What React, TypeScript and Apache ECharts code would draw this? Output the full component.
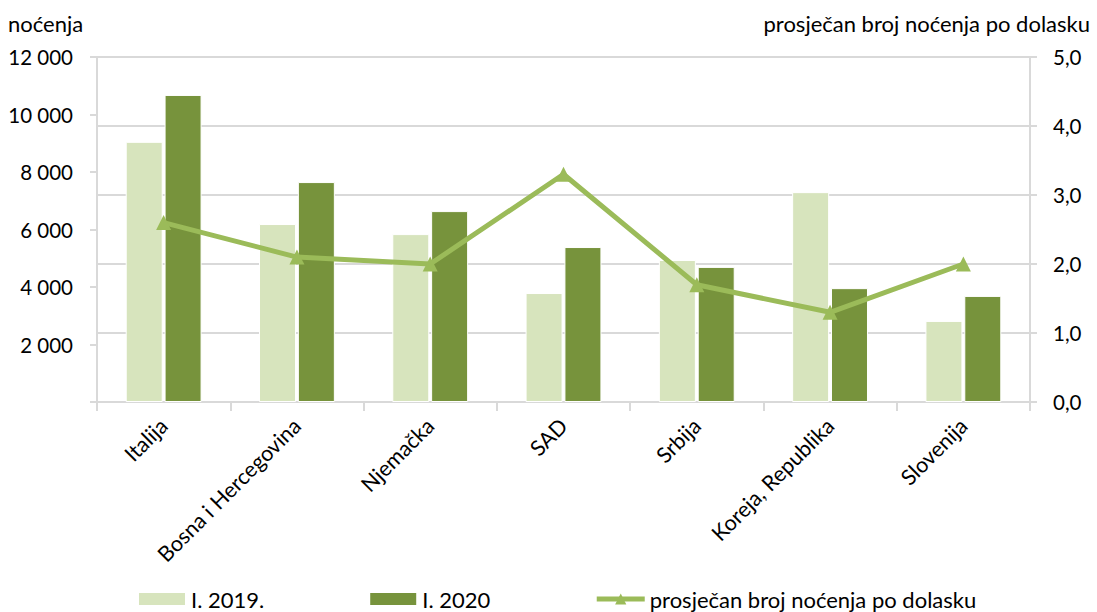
import React, { useEffect, useRef } from "react";
import * as echarts from "echarts";

const categories = ["Italija", "Bosna i Hercegovina", "Njemačka", "SAD", "Srbija", "Koreja, Republika", "Slovenija"];
const nights2019 = [9050, 6190, 5840, 3790, 4940, 7300, 2820];
const nights2020 = [10680, 7650, 6640, 5390, 4700, 3960, 3690];
const avgNights = [2.6, 2.1, 2.0, 3.3, 1.7, 1.3, 2.0];
const seriesNames = ["I. 2019.", "I. 2020", "prosječan broj noćenja po dolasku"];
const leftTitle = "noćenja";
const rightTitle = "prosječan broj noćenja po dolasku";

const FONT = "Lato, 'Open Sans', sans-serif";

export default function App() {
  const ref = useRef<HTMLDivElement>(null);
  useEffect(() => {
    if (!ref.current) return;
    const chart = echarts.init(ref.current, null, { renderer: "svg" });
    const gray = "#d9d9d9";
    chart.setOption({
      animation: false,
      textStyle: { fontFamily: FONT },
      grid: { left: 97, right: 67, top: 57, bottom: 210, containLabel: false },
      graphic: [
        { type: "text", left: 8, top: 12, style: { text: leftTitle, font: `22px ${FONT}`, fill: "#000" } },
        { type: "text", right: 7, top: 12, style: { text: rightTitle, font: `22px ${FONT}`, fill: "#000" } },
      ],
      legend: {
        bottom: -3,
        left: 132,
        itemWidth: 48,
        itemHeight: 14,
        itemGap: 104,
        textStyle: { fontSize: 22, color: "#000", fontFamily: FONT },
        data: [
          { name: seriesNames[0], icon: "rect" },
          { name: seriesNames[1], icon: "rect" },
          { name: seriesNames[2], lineStyle: { width: 5, color: "#9bbb59" } },
        ],
      },
      xAxis: {
        type: "category",
        data: categories,
        axisLine: { lineStyle: { color: gray, width: 2 } },
        axisTick: { show: true, length: 9, lineStyle: { color: gray, width: 2 } },
        axisLabel: { rotate: 45, fontSize: 21.5, color: "#000", margin: 20, interval: 0 },
      },
      yAxis: [
        {
          type: "value",
          min: 0,
          max: 12000,
          interval: 2000,
          splitLine: { show: false },
          axisLine: { show: true, lineStyle: { color: gray, width: 2 } },
          axisTick: { show: true, length: 7, lineStyle: { color: gray, width: 2 } },
          axisLabel: {
            fontSize: 20.5,
            color: "#000",
            margin: 24,
            formatter: (v: number) => (v === 0 ? "" : String(v).replace(/\B(?=(\d{3})+(?!\d))/g, " ")),
          },
        },
        {
          type: "value",
          min: 0,
          max: 5,
          interval: 1,
          position: "right",
          splitLine: { show: true, lineStyle: { color: gray, width: 2 } },
          axisLine: { show: true, lineStyle: { color: gray, width: 2 } },
          axisTick: { show: true, length: 7, lineStyle: { color: gray, width: 2 } },
          axisLabel: {
            fontSize: 20.5,
            color: "#000",
            margin: 23,
            formatter: (v: number) => v.toFixed(1).replace(".", ","),
          },
        },
      ],
      series: [
        {
          name: seriesNames[0],
          type: "bar",
          data: nights2019,
          barWidth: 37,
          barGap: "5%",
          itemStyle: { color: "#d7e4bd", borderColor: "#fff", borderWidth: 1 },
        },
        {
          name: seriesNames[1],
          type: "bar",
          data: nights2020,
          barWidth: 37,
          itemStyle: { color: "#77933c", borderColor: "#fff", borderWidth: 1 },
        },
        {
          name: seriesNames[2],
          type: "line",
          yAxisIndex: 1,
          data: avgNights,
          symbol: "triangle",
          symbolSize: 15,
          lineStyle: { color: "#9bbb59", width: 5 },
          itemStyle: { color: "#9bbb59" },
          z: 5,
        },
      ],
    });
    return () => chart.dispose();
  }, []);
  return <div ref={ref} style={{ width: 1097, height: 612, position: "absolute", left: 0, top: 0 }} />;
}
